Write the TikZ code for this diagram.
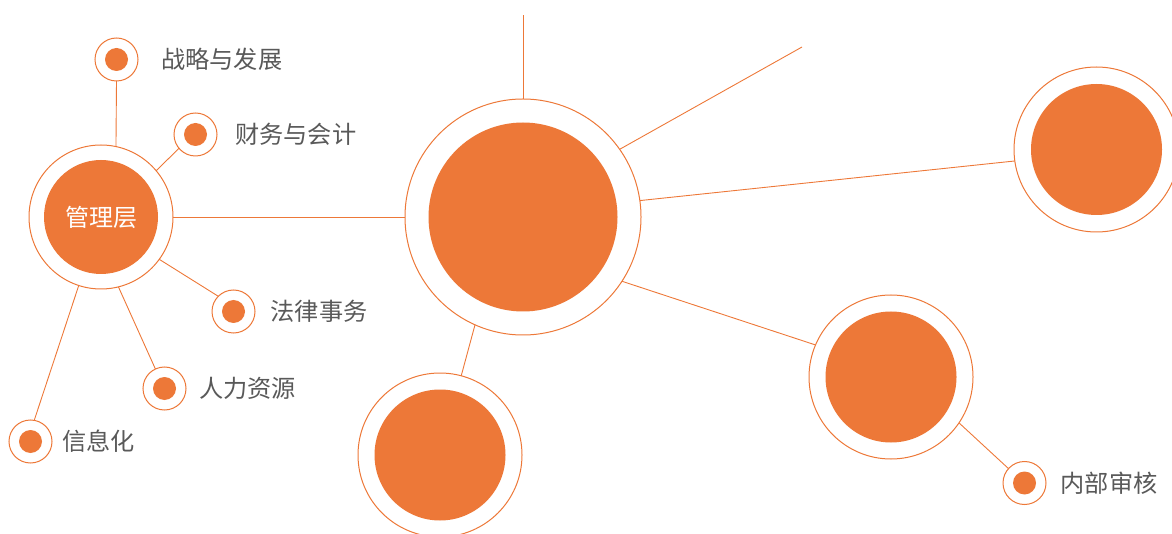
\documentclass[tikz,border=0pt]{standalone}
\usepackage{fontspec}
\setmainfont{Noto Sans CJK SC}
\usetikzlibrary{positioning}
\definecolor{brand}{HTML}{ED7838}
\definecolor{textgray}{HTML}{595959}
\tikzset{
  ring/.style 2 args={circle, draw=brand, line width=1pt, fill=white, minimum size=#1,
    inner sep=0pt, outer sep=0pt,
    path picture={\fill[brand] (path picture bounding box.center) circle[radius=#2];}},
  dot/.style={ring={43pt}{11.5pt}},
  tag/.style={text=textgray, font=\fontsize{24.2}{29}\selectfont, inner sep=0pt},
  link/.style={draw=brand, line width=0.9pt}
}
\begin{document}
\begin{tikzpicture}[x=1pt, y=-1pt]
    \clip (0,0) rectangle (1172,534);

    \node[ring={144pt}{57pt}, text=white, font=\fontsize{24}{29}\selectfont] (mgmt) at (101,217) {管理层};
    \node[ring={236pt}{94.5pt}] (hub) at (523,217) {};
    \node[ring={165pt}{65.5pt}] (rt) at (1096.5,149.5) {};
    \node[ring={164pt}{65.5pt}] (rb) at (891,377) {};
    \node[ring={164pt}{65.5pt}] (bl) at (440,455) {};

    \node[dot] (strat) at (116.5,59.5) {};
    \node[dot] (fin) at (195.5,134.5) {};
    \node[dot] (legal) at (233.5,311.5) {};
    \node[dot] (hr) at (164.5,388.5) {};
    \node[dot] (it) at (30.5,441.5) {};
    \node[dot] (audit) at (1024.5,483) {};

    \node[tag, right=23pt of strat] (strat-t) {战略与发展};
    \node[tag, right=18pt of fin] (fin-t) {财务与会计};
    \node[tag, right=15.5pt of legal] (legal-t) {法律事务};
    \node[tag, right=13pt of hr] (hr-t) {人力资源};
    \node[tag, right=10pt of it] (it-t) {信息化};
    \node[tag, right=14.5pt of audit] (audit-t) {内部审核};

    \coordinate (up) at (523,15);
    \coordinate (ne) at (802,47);

    \draw[link] (mgmt.78) -- (strat.south);
    \draw[link] (mgmt.40) -- (fin.220);
    \draw[link] (mgmt.-36) -- (legal.135);
    \draw[link] (mgmt.-76) -- (hr.115);
    \draw[link] (mgmt.-108) -- (it.80);
    \draw[link] (mgmt.east) -- (hub.west);
    \draw[link] (hub.north) -- (up);
    \draw[link] (hub.35) -- (ne);
    \draw[link] (hub.8) -- (rt.188);
    \draw[link] (hub.-33) -- (rb.157);
    \draw[link] (hub.-114) -- (bl.75);
    \draw[link] (rb.-34) -- (audit.138);
\end{tikzpicture}
\end{document}
